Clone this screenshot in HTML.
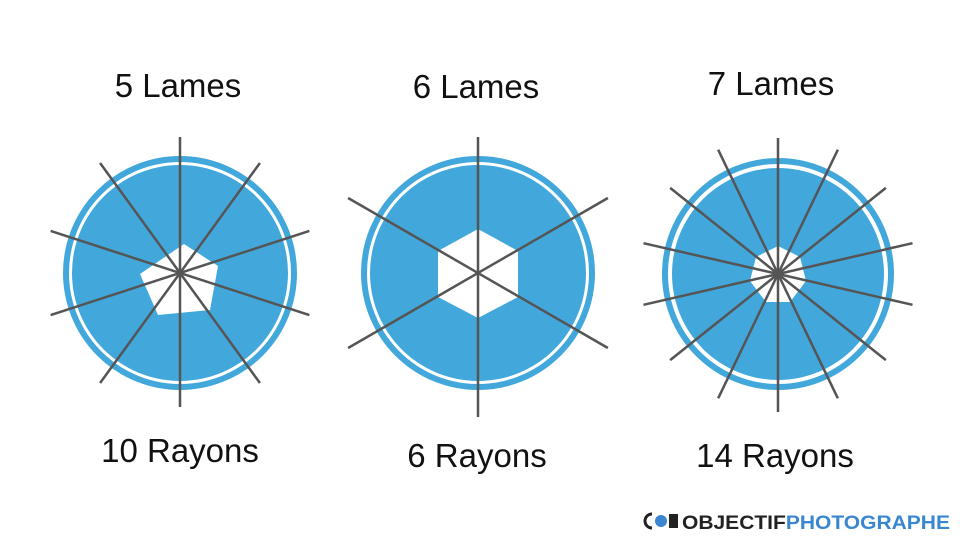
<!DOCTYPE html>
<html><head><meta charset="utf-8"><style>
body{margin:0;background:#fff;width:960px;height:540px;overflow:hidden}
text{font-family:"Liberation Sans",sans-serif;fill:#111}
</style></head><body>
<svg width="960" height="540" viewBox="0 0 960 540">
<!-- Circle 1 -->
<circle cx="180" cy="273" r="114" fill="none" stroke="#42a8dc" stroke-width="6"/>
<circle cx="180" cy="273" r="108" fill="#42a8dc"/>
<polygon points="184,244 218,266 210,310 158,315 140,274" fill="#fff"/>
<g stroke="#555" stroke-width="2.5">
<line x1="180" y1="137" x2="180" y2="407"/>
<g transform="rotate(36 180 273)"><line x1="180" y1="137" x2="180" y2="409"/></g>
<g transform="rotate(72 180 273)"><line x1="180" y1="137" x2="180" y2="409"/></g>
<g transform="rotate(108 180 273)"><line x1="180" y1="137" x2="180" y2="409"/></g>
<g transform="rotate(144 180 273)"><line x1="180" y1="137" x2="180" y2="409"/></g>
</g>
<!-- Circle 2 -->
<circle cx="478" cy="273" r="114" fill="none" stroke="#42a8dc" stroke-width="6"/>
<circle cx="478" cy="273" r="108" fill="#42a8dc"/>
<polygon points="478,229 518,251 518,297 478,318 438,297 438,251" fill="#fff"/>
<g stroke="#555" stroke-width="2.5">
<line x1="478" y1="137" x2="478" y2="417"/>
<g transform="rotate(60 478 273)"><line x1="478" y1="123" x2="478" y2="423"/></g>
<g transform="rotate(120 478 273)"><line x1="478" y1="123" x2="478" y2="423"/></g>
</g>
<!-- Circle 3 -->
<circle cx="778" cy="274" r="113" fill="none" stroke="#42a8dc" stroke-width="6"/>
<circle cx="778" cy="274" r="106" fill="#42a8dc"/>
<polygon points="778,246 800,257 806,281 790,302 766,302 750,281 756,257" fill="#fff"/>
<g stroke="#555" stroke-width="2.5">
<line x1="778" y1="138" x2="778" y2="412"/>
<g transform="rotate(25.7 778 274)"><line x1="778" y1="136" x2="778" y2="412"/></g>
<g transform="rotate(51.4 778 274)"><line x1="778" y1="136" x2="778" y2="412"/></g>
<g transform="rotate(77.1 778 274)"><line x1="778" y1="136" x2="778" y2="412"/></g>
<g transform="rotate(102.9 778 274)"><line x1="778" y1="136" x2="778" y2="412"/></g>
<g transform="rotate(128.6 778 274)"><line x1="778" y1="136" x2="778" y2="412"/></g>
<g transform="rotate(154.3 778 274)"><line x1="778" y1="136" x2="778" y2="412"/></g>
</g>
<text x="178" y="97" font-size="33" text-anchor="middle">5 Lames</text>
<text x="476" y="98" font-size="33" text-anchor="middle">6 Lames</text>
<text x="771" y="95" font-size="33" text-anchor="middle">7 Lames</text>
<text x="180" y="462" font-size="33" text-anchor="middle">10 Rayons</text>
<text x="477" y="467" font-size="33" text-anchor="middle">6 Rayons</text>
<text x="775" y="467" font-size="33" text-anchor="middle">14 Rayons</text>
<path d="M652,514 a7,7 0 0 0 0,14" fill="none" stroke="#222" stroke-width="3"/>
<circle cx="661" cy="521" r="6" fill="#3a86d0"/>
<rect x="669" y="514" width="9" height="14" fill="#222"/>
<text x="682" y="529" font-size="19" font-weight="bold" style="fill:#222" textLength="268" lengthAdjust="spacingAndGlyphs">OBJECTIF<tspan style="fill:#3a86d0">PHOTOGRAPHE</tspan></text>
</svg>
</body></html>
